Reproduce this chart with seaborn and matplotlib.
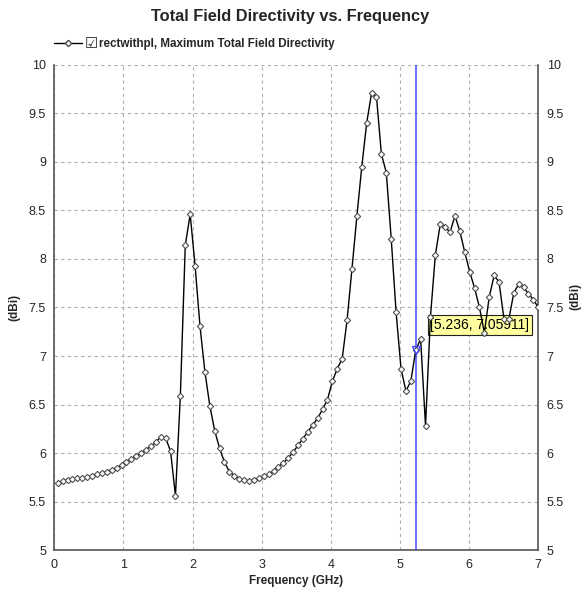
import numpy as np
import pandas as pd
import matplotlib
matplotlib.use("Agg")
import matplotlib.pyplot as plt
from matplotlib.lines import Line2D
import seaborn as sns

# ---- data ----
freq_start, freq_stop, n_points = 0.05, 7.0, 99
directivity = [
    5.69, 5.71, 5.725, 5.735, 5.74, 5.745, 5.755, 5.765, 5.78, 5.795, 5.81, 5.83,
    5.85, 5.875, 5.905, 5.935, 5.965, 6.00, 6.035, 6.07, 6.11, 6.17, 6.155, 6.02,
    5.56, 6.59, 8.14, 8.46, 7.93, 7.31, 6.84, 6.49, 6.23, 6.05, 5.905, 5.81,
    5.765, 5.735, 5.723, 5.715, 5.723, 5.744, 5.761, 5.785, 5.82, 5.86, 5.90, 5.95, 6.01, 6.08,
    6.15, 6.22, 6.29, 6.36, 6.45, 6.55, 6.74, 6.87, 6.97,
    7.37, 7.90, 8.44, 8.95, 9.40, 9.71, 9.67, 9.08, 8.89, 8.21, 7.45, 6.87, 6.64, 6.74, 7.06, 7.175,
    6.28, 7.40, 8.04, 8.355, 8.33, 8.275, 8.445, 8.285, 8.07, 7.87, 7.70, 7.50, 7.24, 7.61, 7.83,
    7.76, 7.38, 7.38, 7.65, 7.74, 7.71, 7.64, 7.58, 7.50,
]
frequency = np.linspace(freq_start, freq_stop, n_points)
cursor_freq = 5.236
cursor_val = 7.05911
x_ticks = [0, 1, 2, 3, 4, 5, 6, 7]
y_ticks = [5, 5.5, 6, 6.5, 7, 7.5, 8, 8.5, 9, 9.5, 10]
y_tick_labels = ["5", "5.5", "6", "6.5", "7", "7.5", "8", "8.5", "9", "9.5", "10"]
series_label = "rectwithpl, Maximum Total Field Directivity"

df = pd.DataFrame({"Frequency": frequency, "Directivity": directivity})

sns.set_style("white")
plt.rcParams["font.family"] = ["Liberation Sans", "DejaVu Sans"]

fig = plt.figure(figsize=(5.86, 5.93), dpi=100)
ax = fig.add_axes([0.0927, 0.0722, 0.9186 - 0.0927, 0.8908 - 0.0722])

sns.lineplot(data=df, x="Frequency", y="Directivity", ax=ax, color="black",
             linewidth=1.0, marker="D", markersize=3.2, markerfacecolor="white",
             markeredgecolor="#505050", markeredgewidth=0.8, zorder=5)

ax.set_xlim(0, 7)
ax.set_ylim(5, 10)
ax.set_xticks(x_ticks)
ax.set_xticklabels([str(t) for t in x_ticks])
ax.set_yticks(y_ticks)
ax.set_yticklabels(y_tick_labels)
ax.grid(True, color="#b0b0b0", linestyle=(0, (3, 3)), linewidth=0.8)
ax.tick_params(axis="both", length=0, labelsize=9, pad=6,
               labelright=True, labelleft=True)
for s in ["left", "bottom", "right"]:
    ax.spines[s].set_color("#555555")
    ax.spines[s].set_linewidth(1.2)
ax.spines["top"].set_visible(False)

ax.set_xlabel("Frequency (GHz)", fontsize=8.5, fontweight="bold", labelpad=3)
ax.set_ylabel("(dBi)", fontsize=8.5, fontweight="bold", labelpad=6)
fig.text(0.982, 0.5, "(dBi)", rotation=90, fontsize=8.5, fontweight="bold",
         ha="center", va="center")

# cursor
ax.axvline(cursor_freq, color="#4848ff", linewidth=1.1, zorder=4)
ax.plot([cursor_freq], [cursor_val], marker="v", markersize=6,
        markerfacecolor="none", markeredgecolor="#4848ff", zorder=6)
ax.annotate(f"[{cursor_freq}, {cursor_val}]", xy=(cursor_freq, cursor_val),
            xytext=(14, 25), textcoords="offset pixels", ha="left", va="center",
            fontsize=10, color="black", zorder=3,
            bbox=dict(boxstyle="square,pad=0.2", facecolor="#ffffa0",
                      edgecolor="#222222", linewidth=0.8))

# title
fig.text(0.495, 0.972, "Total Field Directivity vs. Frequency", ha="center",
         va="center", fontsize=11.8, fontweight="bold")

# legend
handle = Line2D([0], [0], color="black", linewidth=1.0, marker="D", markersize=3.2,
                markerfacecolor="white", markeredgecolor="#505050")
fig.legend([handle], [series_label], loc="center left",
           bbox_to_anchor=(0.075, 0.926), frameon=False, handlelength=2.4,
           handletextpad=1.45, prop={"family": ["Liberation Sans", "DejaVu Sans"],
                                     "weight": "bold", "size": 8.4})
fig.text(0.155, 0.927, "\u2611", fontsize=10.5, family="DejaVu Sans",
         ha="center", va="center", color="#222222")

fig.savefig("out.png", dpi=100)
